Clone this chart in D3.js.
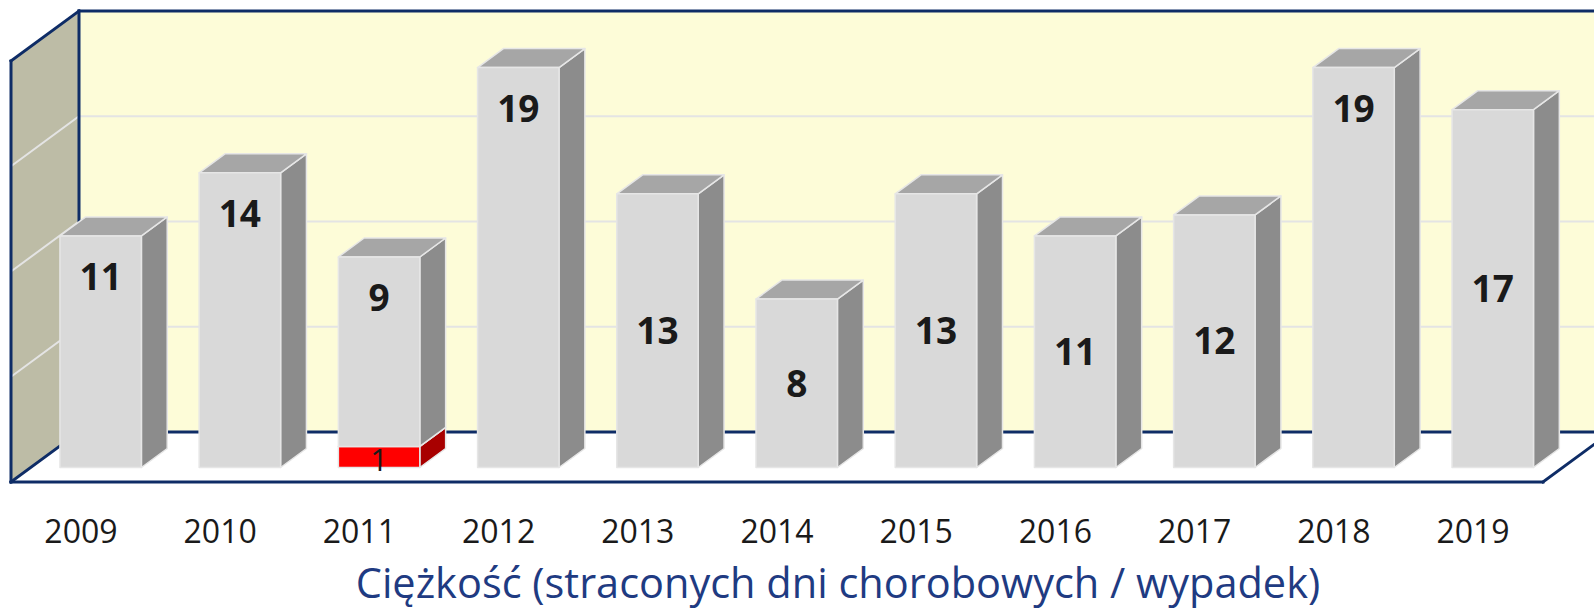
<!DOCTYPE html>
<html>
<head>
<meta charset="utf-8">
<script src="https://cdn.jsdelivr.net/npm/d3@7"></script>
<style>
  body { margin: 0; background: #fff; }
  svg { display: block; }
</style>
</head>
<body>
<svg id="chart"></svg>
<script>
// data
const years = ["2009", "2010", "2011", "2012", "2013", "2014", "2015", "2016", "2017", "2018", "2019"];
const redValues = [0, 0, 1, 0, 0, 0, 0, 0, 0, 0, 0];
const greyValues = [11, 14, 9, 19, 13, 8, 13, 11, 12, 19, 17];
// where Excel put the grey label: near the top or in the middle of the bar
const labelPlacement = ["end", "end", "end", "end", "center", "center", "center", "center", "center", "end", "center"];
const valueTicks = [0, 5, 10, 15, 20];
const axisTitle = "Ciężkość (straconych dni chorobowych / wypadek)";

// dimensions
const totalWidth = 1594;
const totalHeight = 610;
const floorLeft = 11;
const floorRight = 1543;
const floorFront = 482;
const wallHeight = 421;
const depth = { dx: 68, dy: -50 };
const barDepth = { z0: 0.29, z1: 0.67 };

const navy = "#0e2c66";

const svg = d3
  .select("#chart")
  .attr("width", totalWidth)
  .attr("height", totalHeight);

///////////////////////////////////////////////////
//////////////// Set the Scales ///////////////////
///////////////////////////////////////////////////

const xScale = d3
  .scaleBand()
  .domain(years)
  .range([floorLeft, floorRight])
  .paddingInner(0.415)
  .paddingOuter(0.21);

const hScale = d3
  .scaleLinear()
  .domain([0, d3.max(valueTicks)])
  .range([0, wallHeight]);

// oblique projection: x in px, value, depth 0 (front) .. 1 (back wall)
const project = (x, v, z) => [x + z * depth.dx, floorFront + z * depth.dy - hScale(v)];

const toPath = (pts) => "M" + pts.map((p) => p.join(",")).join("L") + "Z";

///////////////////////////////////////////////////
/////////////// Walls and floor ///////////////////
///////////////////////////////////////////////////

const vMax = d3.max(valueTicks);
const farRight = floorRight + 80;

// left wall
svg
  .append("path")
  .attr("d", toPath([project(floorLeft, 0, 0), project(floorLeft, vMax, 0), project(floorLeft, vMax, 1), project(floorLeft, 0, 1)]))
  .attr("fill", "#bdbca6");

// back wall
svg
  .append("path")
  .attr("d", toPath([project(floorLeft, 0, 1), project(floorLeft, vMax, 1), project(farRight, vMax, 1), project(farRight, 0, 1)]))
  .attr("fill", "#fdfcd8");

// floor
svg
  .append("path")
  .attr("d", toPath([project(floorLeft, 0, 0), project(floorRight, 0, 0), project(floorRight, 0, 1), project(floorLeft, 0, 1)]))
  .attr("fill", "#ffffff");

// gridlines on back and left walls
const gridTicks = valueTicks.filter((t) => t > 0 && t < vMax);
const grid = svg.append("g").attr("class", "grid");
gridTicks.forEach((t) => {
  const pts = [project(floorLeft, t, 0), project(floorLeft, t, 1), project(farRight, t, 1)];
  grid
    .append("path")
    .attr("d", "M" + pts.map((p) => p.join(",")).join("L"))
    .attr("fill", "none")
    .attr("stroke", "#e4e4e4")
    .attr("stroke-width", 2);
});

// wall and floor edges
const edges = [
  [project(floorLeft, vMax, 1), project(farRight, vMax, 1)],
  [project(floorLeft, vMax, 1), project(floorLeft, 0, 1)],
  [project(floorLeft, vMax, 0), project(floorLeft, vMax, 1)],
  [project(floorLeft, vMax, 0), project(floorLeft, 0, 0)],
  [project(floorLeft, 0, 0), project(floorRight, 0, 0)],
  [project(floorRight, 0, 0), project(floorRight, 0, 1)],
  [project(floorLeft, 0, 0), project(floorLeft, 0, 1)],
  [project(floorLeft, 0, 1), project(farRight, 0, 1)],
];
svg
  .append("g")
  .attr("class", "edges")
  .selectAll("path")
  .data(edges)
  .enter()
  .append("path")
  .attr("d", (d) => "M" + d.map((p) => p.join(",")).join("L"))
  .attr("stroke", navy)
  .attr("stroke-width", 3)
  .attr("stroke-linecap", "square")
  .attr("fill", "none");

///////////////////////////////////////////////////
/////////////////// The bars //////////////////////
///////////////////////////////////////////////////

const table = years.map((year, i) => ({ year, red: redValues[i], grey: greyValues[i] }));
const stacked = d3.stack().keys(["red", "grey"])(table);

const colors = {
  red: { front: "#ff0000", side: "#a80000", top: "#d00000" },
  grey: { front: "#d9d9d9", side: "#8c8c8c", top: "#a6a6a6" },
};

const bars = svg.append("g").attr("class", "bars");
years.forEach((year, i) => {
  const x0 = xScale(year);
  const x1 = x0 + xScale.bandwidth();
  stacked.forEach((series) => {
    const [v0, v1] = series[i];
    if (v1 - v0 <= 0) return;
    const c = colors[series.key];
    const g = bars.append("g").attr("class", "bar " + series.key);
    const style = (sel) =>
      sel.attr("stroke", "#e6e6e6").attr("stroke-width", 1.5).attr("stroke-linejoin", "round");
    // side
    g.append("path")
      .attr("d", toPath([project(x1, v0, barDepth.z0), project(x1, v0, barDepth.z1), project(x1, v1, barDepth.z1), project(x1, v1, barDepth.z0)]))
      .attr("fill", c.side)
      .call(style);
    // top
    g.append("path")
      .attr("d", toPath([project(x0, v1, barDepth.z0), project(x1, v1, barDepth.z0), project(x1, v1, barDepth.z1), project(x0, v1, barDepth.z1)]))
      .attr("fill", c.top)
      .call(style);
    // front
    const [fx, fy] = project(x0, v1, barDepth.z0);
    g.append("rect")
      .attr("x", fx)
      .attr("y", fy)
      .attr("width", xScale.bandwidth())
      .attr("height", hScale(v1 - v0))
      .attr("fill", c.front)
      .call(style);
  });
});

///////////////////////////////////////////////////
////////////////// Data labels ////////////////////
///////////////////////////////////////////////////

const labels = svg.append("g").attr("class", "labels").attr("font-family", "'Open Sans', 'Noto Sans', sans-serif");
years.forEach((year, i) => {
  const cx = xScale(year) + xScale.bandwidth() / 2;
  stacked.forEach((series) => {
    const [v0, v1] = series[i];
    const val = v1 - v0;
    if (val <= 0) return;
    const isGrey = series.key === "grey";
    const fontSize = isGrey ? 37 : 31;
    let cy;
    if (isGrey && labelPlacement[i] === "end") {
      cy = project(cx, v1, barDepth.z0)[1] + 41;
    } else {
      cy = project(cx, (v0 + v1) / 2, barDepth.z0)[1] + (isGrey ? 0 : 3);
    }
    labels
      .append("text")
      .attr("x", cx + barDepth.z0 * depth.dx)
      .attr("y", cy + fontSize * 0.357)
      .attr("text-anchor", "middle")
      .attr("font-size", fontSize)
      .attr("font-weight", isGrey ? 700 : 400)
      .attr("fill", "#1a1a1a")
      .text(val);
  });
});

///////////////////////////////////////////////////
/////////////////// X axis ////////////////////////
///////////////////////////////////////////////////

const xAxis = svg
  .append("g")
  .attr("class", "x-axis")
  .attr("transform", "translate(0," + floorFront + ")")
  .call(d3.axisBottom(xScale).tickSize(0).tickPadding(38));
xAxis.select(".domain").remove();
xAxis
  .selectAll("text")
  .attr("font-family", "'Open Sans', 'Noto Sans', sans-serif")
  .attr("font-size", 32)
  .attr("fill", "#1a1a1a");

svg
  .append("text")
  .attr("class", "axis-title")
  .attr("x", 838)
  .attr("y", 598)
  .attr("text-anchor", "middle")
  .attr("font-family", "'Open Sans', 'Noto Sans', sans-serif")
  .attr("font-size", 41.5)
  .attr("fill", "#1f3b82")
  .text(axisTitle);
</script>
</body>
</html>
